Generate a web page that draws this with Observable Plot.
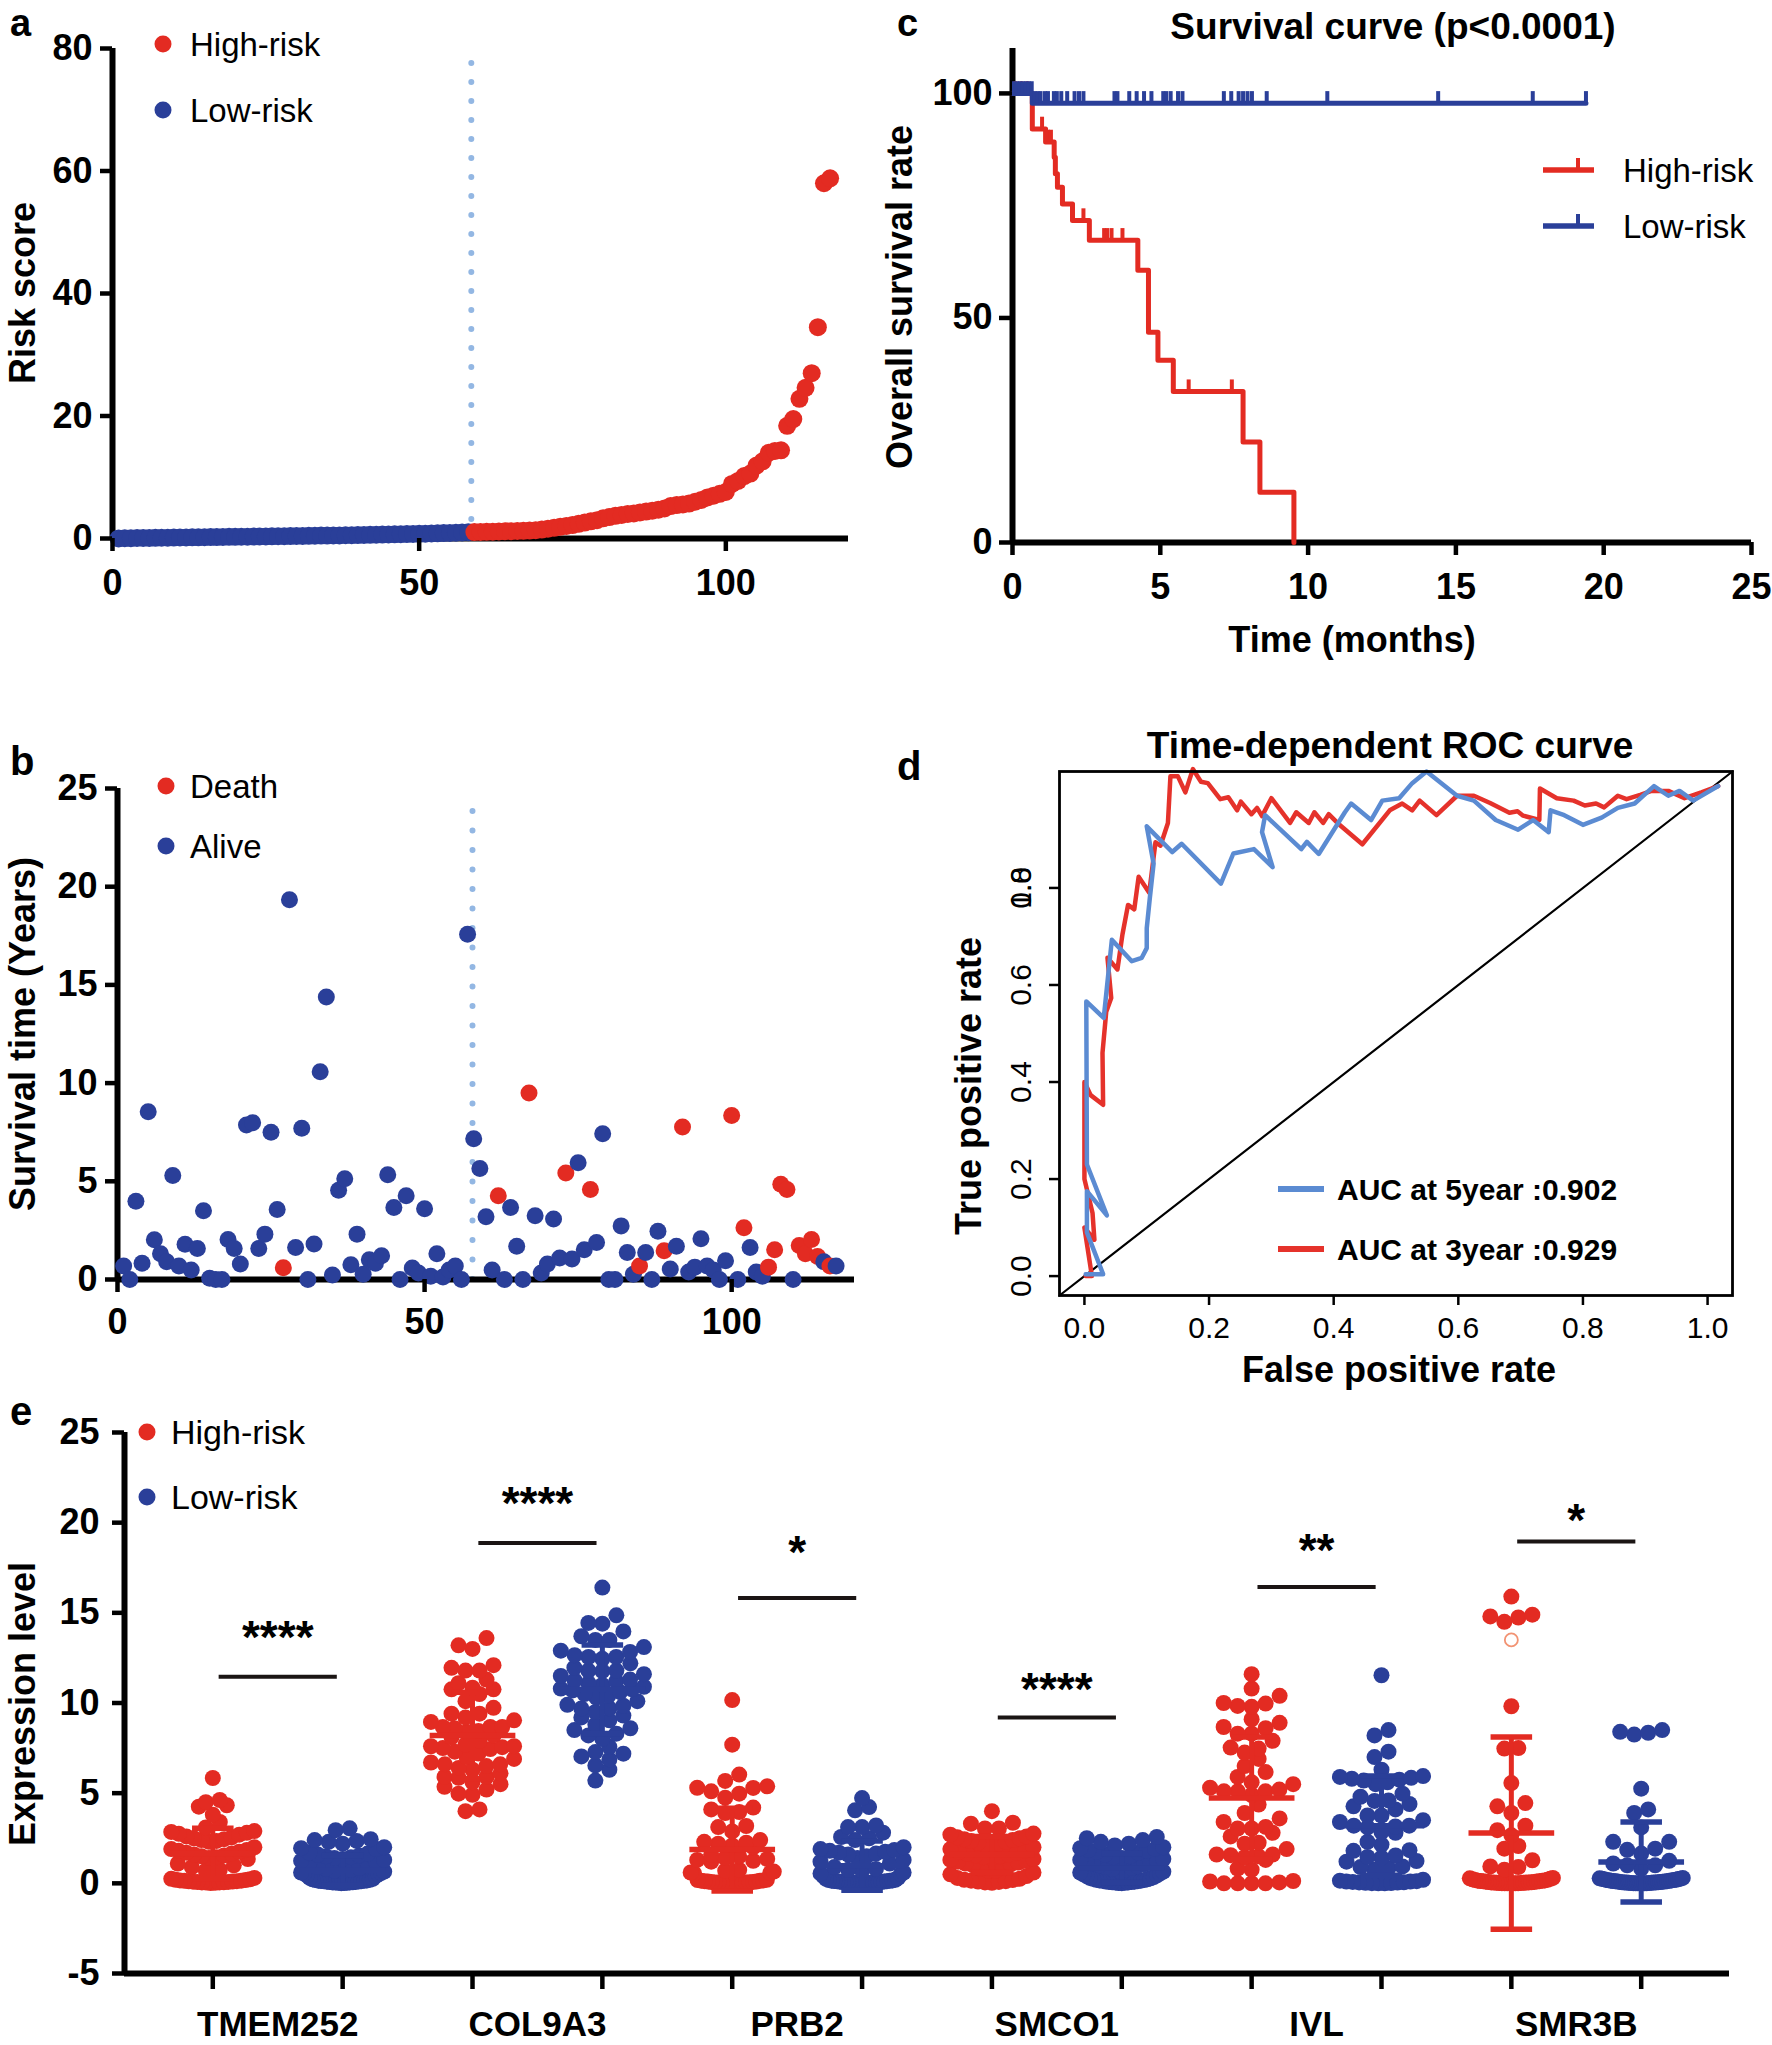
<!DOCTYPE html>
<html><head><meta charset="utf-8">
<script src="https://cdn.jsdelivr.net/npm/d3@7"></script>
<script src="https://cdn.jsdelivr.net/npm/@observablehq/plot@0.6"></script>
<style>
body{margin:0;background:#fff;}
#root{position:relative;width:1772px;height:2045px;overflow:hidden;background:#fff;}
</style></head><body><div id="root"></div>
<script>
// ---------------- DATA ----------------
// Panel a: risk score per patient (sorted)
const lowRiskScores = [0.02,0.04,0.06,0.08,0.09,0.10,0.12,0.13,0.14,0.15,
 0.17,0.18,0.19,0.20,0.22,0.23,0.24,0.25,0.27,0.28,
 0.29,0.30,0.32,0.33,0.34,0.35,0.37,0.38,0.40,0.41,
 0.42,0.44,0.45,0.47,0.48,0.50,0.51,0.53,0.55,0.56,
 0.58,0.60,0.62,0.64,0.66,0.68,0.70,0.72,0.74,0.77,
 0.79,0.82,0.85,0.88,0.91,0.95,0.98,1.02];
const highRiskScores = [1.05,1.08,1.10,1.12,1.15,1.17,1.20,1.23,1.26,1.30,
 1.35,1.45,1.60,1.75,1.90,2.05,2.20,2.40,2.60,2.80,
 3.00,3.30,3.50,3.70,3.85,4.00,4.10,4.25,4.40,4.55,
 4.70,4.90,5.30,5.45,5.55,5.70,6.00,6.30,6.70,7.00,
 7.30,7.60,8.90,9.40,10.2,10.6,11.9,12.6,14.0,14.3,
 14.4,18.4,19.5,22.8,24.6,27.0,34.5,58.0,58.8];
const riskCutoffA = 58.5;

// Panel b: survival time (years) per patient, death indices
const survTime = [0.69,0,3.98,0.83,8.54,2.02,1.31,0.9,5.3,0.69,
 1.8,0.48,1.58,3.5,0.06,0,0,2.04,1.58,0.79,
 7.87,7.98,1.58,2.31,7.5,3.56,0.6,19.33,1.63,7.7,
 0,1.81,10.58,14.38,0.23,4.54,5.13,0.75,2.31,0.27,
 1.0,0.83,1.21,5.33,3.67,0,4.27,0.58,0.33,3.6,
 0.17,1.31,0.13,0.48,0.69,0,17.58,7.17,5.65,3.19,
 0.48,4.27,0,3.67,1.69,0,9.5,3.25,0.33,0.79,
 3.08,1.1,5.42,1.04,5.94,1.52,4.58,1.88,7.42,0,
 0,2.73,1.38,0.27,0.69,1.38,0,2.46,1.46,0.54,
 1.69,7.77,0.38,0.63,2.08,0.69,0.48,0,0.96,8.35,
 0,2.63,1.63,0.38,0.17,0.63,1.52,4.85,4.58,0,
 1.73,1.31,2.04,1.17,0.9,0.69,0.69];
const deathIdx = [27,62,67,73,77,85,89,92,100,102,106,107,108,109,111,112,113,114,116];
const riskCutoffB = 57.8;

// Panel c: Kaplan-Meier steps [time (months), survival %]
const kmHigh = [[0,100],[0.67,92.1],[1.12,89.2],[1.41,85.8],[1.45,82.1],[1.52,79.1],[1.69,75.4],[2.03,71.7],[2.6,67.3],[4.24,60.6],[4.6,46.8],[4.92,40.6],[5.44,33.6],[7.8,22.4],[8.37,11.2],[9.52,0]];
const kmLow = [[0,100],[0.67,97.8],[19.4,97.8]];
const censorHigh = [[0.1,100],[0.3,100],[0.5,100],[1.0,92.1],[1.2,89.2],[1.3,89.2],[2.4,71.7],[3.1,67.3],[3.2,67.3],[3.35,67.3],[3.72,67.3],[5.96,33.6],[7.42,33.6]];
const censorLow = [[0.05,100],[0.15,100],[0.25,100],[0.35,100],[0.45,100],[0.55,100],[0.65,100],[0.75,97.8],[0.85,97.8],[0.95,97.8],[1.1,97.8],[1.2,97.8],[1.4,97.8],[1.5,97.8],[1.65,97.8],[1.85,97.8],[2.1,97.8],[2.25,97.8],[2.4,97.8],[3.45,97.8],[3.55,97.8],[3.95,97.8],[4.2,97.8],[4.45,97.8],[4.7,97.8],[5.1,97.8],[5.2,97.8],[5.35,97.8],[5.6,97.8],[5.75,97.8],[7.15,97.8],[7.4,97.8],[7.65,97.8],[7.8,97.8],[7.95,97.8],[8.1,97.8],[8.6,97.8],[10.65,97.8],[14.4,97.8],[17.6,97.8],[19.4,97.8]];

// Panel d: ROC curves [FPR, TPR]
const roc5y = [[0.002,0.004],[0.03,0.004],[0.004,0.09],[0.004,0.175],[0.036,0.125],[0.004,0.23],[0.003,0.566],[0.031,0.532],[0.036,0.594],[0.044,0.693],[0.076,0.649],[0.092,0.656],[0.1,0.676],[0.1,0.717],[0.105,0.78],[0.111,0.85],[0.1,0.927],[0.141,0.874],[0.156,0.891],[0.219,0.809],[0.239,0.871],[0.272,0.88],[0.302,0.843],[0.285,0.915],[0.29,0.95],[0.348,0.88],[0.357,0.895],[0.376,0.87],[0.418,0.956],[0.428,0.974],[0.46,0.94],[0.478,0.98],[0.505,0.985],[0.526,1.016],[0.549,1.04],[0.598,0.99],[0.625,0.98],[0.66,0.94],[0.696,0.92],[0.72,0.94],[0.745,0.915],[0.748,0.96],[0.77,0.95],[0.8,0.93],[0.83,0.945],[0.856,0.965],[0.883,0.974],[0.914,1.01],[0.937,0.99],[0.955,1.0],[0.977,0.98],[1.017,1.01]];
const roc3y = [[0.002,0],[0.012,0],[0.0,0.1],[0.016,0.075],[0.013,0.13],[0.0,0.2],[0.0,0.4],[0.01,0.373],[0.03,0.353],[0.029,0.46],[0.035,0.545],[0.043,0.573],[0.037,0.656],[0.053,0.632],[0.061,0.704],[0.07,0.765],[0.08,0.756],[0.087,0.823],[0.104,0.79],[0.114,0.894],[0.122,0.887],[0.134,0.934],[0.138,1.03],[0.15,1.03],[0.162,0.997],[0.174,1.045],[0.187,1.019],[0.198,1.016],[0.218,0.983],[0.231,0.987],[0.245,0.96],[0.251,0.978],[0.268,0.952],[0.277,0.965],[0.285,0.948],[0.30,0.985],[0.33,0.934],[0.34,0.956],[0.36,0.934],[0.369,0.956],[0.383,0.934],[0.392,0.952],[0.406,0.934],[0.446,0.89],[0.49,0.96],[0.51,0.974],[0.526,0.96],[0.538,0.98],[0.565,0.95],[0.598,0.99],[0.625,0.99],[0.651,0.975],[0.682,0.955],[0.695,0.958],[0.704,0.949],[0.73,0.94],[0.731,1.005],[0.758,0.985],[0.785,0.98],[0.803,0.97],[0.821,0.974],[0.834,0.966],[0.856,0.99],[0.87,0.983],[0.892,0.992],[0.91,1.0],[0.937,1.0],[0.963,0.985],[0.99,0.997],[1.017,1.01]];
const rocYTickPos = [0,0.2,0.4,0.6,0.8,0.8];
const rocYTickLabels = ["0.0","0.2","0.4","0.6","0.8","1.0"];
const rocXTicks = [0,0.2,0.4,0.6,0.8,1.0];
const rocLegend = ["AUC at 5year :0.902","AUC at 3year :0.929"];

// Panel e: expression levels
const genes = ["TMEM252","COL9A3","PRB2","SMCO1","IVL","SMR3B"];
const tmem252High = [5.84,4.62,4.5,4.33,4.25,3.81,3.4,3.1,2.9,2.85,2.8,2.75,2.7,2.6,2.55,2.5,2.45,2.4,2.35,2.3,2.0,1.9,1.85,1.8,1.75,1.7,1.65,1.6,1.55,1.5,1.45,1.4,1.35,1.1,1.0,0.9,0.75,0.7,0.3,0.25,0.22,0.2,0.18,0.16,0.15,0.14,0.12,0.11,0.1,0.09,0.08,0.07,0.06,0.05,0.05,0.04,0.03,0.02];
const tmem252Low = [3.05,2.95,2.45,2.4,2.35,2.3,2.2,2.0,1.95,1.9,1.7,1.65,1.6,1.55,1.5,1.45,1.4,1.35,1.3,1.25,1.2,1.15,1.1,0.9,0.85,0.8,0.75,0.7,0.68,0.65,0.6,0.58,0.55,0.5,0.45,0.4,0.3,0.25,0.22,0.2,0.18,0.16,0.15,0.14,0.13,0.12,0.11,0.1,0.09,0.08,0.07,0.06,0.05,0.05,0.04,0.03,0.03,0.02,0.01];
const col9a3High = [13.6,13.2,13.0,12.1,11.95,11.8,11.8,11.3,11.1,10.85,10.76,10.76,10.5,10.1,9.73,9.41,9.41,9.2,9.04,8.95,8.67,8.67,8.67,8.6,8.45,8.4,8.2,8.1,7.9,7.7,7.6,7.6,7.55,7.5,7.45,7.3,7.2,7.0,6.9,6.7,6.6,6.6,6.5,6.4,6.3,6.1,5.9,5.9,5.85,5.6,5.5,5.35,5.2,4.97,4.91,4.1,4.0];
const col9a3Low = [16.4,14.86,14.44,14.4,13.97,13.7,13.5,13.5,13.1,12.9,12.83,12.65,12.55,12.55,12.45,12.2,11.96,11.8,11.8,11.77,11.6,11.5,11.3,11.25,11.2,11.1,11.0,10.9,10.8,10.76,10.7,10.6,10.5,10.4,10.3,10.1,9.9,9.85,9.7,9.7,9.5,9.3,9.2,9.04,8.8,8.6,8.5,8.3,8.2,8.0,7.57,7.28,7.19,7.04,6.87,6.54,6.3,5.7];
const prb2High = [10.16,7.69,6.03,5.68,5.38,5.3,5.29,5.1,4.97,4.75,4.2,4.1,3.95,3.9,3.18,3.12,2.88,2.4,2.3,2.25,2.2,2.1,2.0,1.6,1.5,1.4,1.35,1.3,1.25,1.2,0.75,0.7,0.65,0.6,0.58,0.55,0.2,0.18,0.16,0.15,0.14,0.12,0.1,0.1,0.08,0.07,0.06,0.05,0.05,0.04,0.03,0.02,0.02,0.01,0.0,0.0,0.0];
const prb2Low = [4.73,4.23,4.05,3.21,3.12,3.12,2.81,2.57,2.5,2.4,2.0,1.9,1.85,1.8,1.75,1.7,1.65,1.6,1.5,1.4,1.3,1.2,1.1,0.9,0.8,0.75,0.7,0.6,0.55,0.5,0.4,0.3,0.25,0.2,0.18,0.16,0.15,0.14,0.13,0.12,0.11,0.1,0.09,0.08,0.07,0.06,0.06,0.05,0.05,0.04,0.04,0.03,0.03,0.02,0.02,0.01,0.01,0.0];
const smco1High = [4.0,3.36,3.31,3.04,3.04,2.76,2.7,2.6,2.55,2.5,2.45,2.4,2.35,2.3,2.25,2.2,2.15,2.1,2.0,1.9,1.8,1.75,1.7,1.65,1.6,1.55,1.5,1.45,1.4,1.35,1.3,1.25,1.2,1.15,1.1,1.05,1.0,0.9,0.8,0.7,0.7,0.6,0.5,0.4,0.3,0.25,0.2,0.18,0.15,0.12,0.1,0.08,0.05,0.03];
const smco1Low = [2.57,2.5,2.4,2.3,2.2,2.1,2.0,1.95,1.9,1.85,1.8,1.75,1.7,1.6,1.5,1.45,1.4,1.35,1.3,1.25,1.2,1.15,1.1,1.05,1.0,0.95,0.9,0.85,0.8,0.75,0.7,0.65,0.6,0.55,0.5,0.45,0.4,0.35,0.3,0.28,0.25,0.22,0.2,0.18,0.16,0.15,0.14,0.12,0.1,0.09,0.08,0.07,0.06,0.05,0.04,0.03,0.02,0.01];
const ivlHigh = [11.6,10.8,10.4,10.0,9.97,9.84,9.79,9.1,8.9,8.67,8.6,8.3,8.3,7.9,7.53,7.47,7.25,6.9,6.5,6.17,5.9,5.6,5.5,5.3,5.2,5.1,5.1,5.1,4.9,4.37,3.9,3.6,3.4,3.13,3.04,3.04,2.8,2.6,2.25,2.2,1.9,1.6,1.6,1.56,1.5,1.45,1.3,0.82,0.76,0.13,0.1,0.05,0.0,0.0,0.0,0.0];
const ivlLow = [11.54,8.5,8.2,7.3,7.0,6.3,5.95,5.9,5.85,5.8,5.75,5.7,5.6,5.5,4.97,4.8,4.6,4.57,4.4,4.27,4.1,3.76,3.76,3.5,3.4,3.2,3.2,3.15,3.1,2.84,2.8,2.3,2.15,1.84,1.8,1.55,1.46,1.43,1.24,1.2,0.94,0.9,0.85,0.76,0.2,0.15,0.12,0.1,0.1,0.08,0.06,0.05,0.04,0.03,0.02,0.01,0.0,0.0];
const smr3bHigh = [15.9,14.9,14.8,14.74,14.5,9.82,7.5,7.47,5.56,4.45,4.27,3.9,3.2,2.95,2.66,2.07,1.92,1.28,0.94,0.9,0.76,0.3,0.28,0.25,0.22,0.2,0.18,0.16,0.15,0.14,0.13,0.12,0.11,0.1,0.09,0.08,0.07,0.06,0.05,0.05,0.04,0.04,0.03,0.03,0.02,0.02,0.01,0.01,0,0,0,0,0];
const smr3bHighHollow = [13.5];
const smr3bLow = [8.5,8.4,8.35,8.25,5.25,4.1,3.9,3.1,2.3,2.3,1.92,1.86,1.65,1.25,1.1,1.0,1.0,0.82,0.3,0.28,0.26,0.25,0.24,0.22,0.2,0.19,0.18,0.17,0.16,0.15,0.14,0.13,0.12,0.11,0.1,0.1,0.09,0.08,0.07,0.06,0.06,0.05,0.05,0.04,0.04,0.03,0.03,0.02,0.02,0.01,0.01,0.0,0.0,0.0,0.0,0.0];
// mean and SD per column (High, Low for each gene)
const exprMeans = [1.65,0.72,8.2,10.76,1.87,0.98,1.6,0.85,4.73,3.2,2.79,1.18];
const exprSDs = [1.4,0.83,2.4,2.45,2.3,1.37,1.0,0.8,3.39,2.75,5.33,2.22];
const sigBarY = [11.46,18.87,15.82,9.2,16.43,18.95];
const sigStarY = [14.1,21.5,18.8,11.2,18.9,20.6];
const sigLabels = ["****","****","*","****","**","*"];

// ---------------- STYLE ----------------
const RED = "#e32b22", BLUE = "#2a3f99", ROC_BLUE = "#5b8bd2", ROC_RED = "#e5322b", CUT = "#93b7e3";
const FONT = "'Liberation Sans', Arial, Helvetica, sans-serif";
const style = {fontFamily: FONT, color: "#000", background: "transparent", overflow: "visible"};
const AXW = 6, TKW = 4.5;
const root = document.getElementById("root");
function place(node, left, top) {
  node.style.position = "absolute"; node.style.left = left + "px"; node.style.top = top + "px";
  root.appendChild(node);
}
const groupColor = {domain: ["High-risk","Low-risk"], range: [RED, BLUE]};
const plain = d => String(d);

// ---------------- PANEL A ----------------
const riskData = [
  ...lowRiskScores.map((s,i) => ({idx: i+1, score: s, group: "Low-risk"})),
  ...highRiskScores.map((s,i) => ({idx: lowRiskScores.length + i + 1, score: s, group: "High-risk"}))
];
const plotA = Plot.plot({
  width: 880, height: 620, marginLeft: 112, marginRight: 32, marginTop: 48, marginBottom: 82,
  x: {domain: [0,120]}, y: {domain: [0,80]}, color: groupColor, style,
  marks: [
    Plot.ruleX([riskCutoffA], {y1: 0, y2: 78.5, stroke: CUT, strokeWidth: 6, strokeDasharray: "0 19", strokeLinecap: "round"}),
    Plot.ruleY([0], {stroke: "#000", strokeWidth: AXW}),
    Plot.ruleX([0], {stroke: "#000", strokeWidth: AXW}),
    Plot.dot(riskData, {x: "idx", y: "score", fill: "group", r: 9}),
    Plot.axisX({ticks: [0,50,100], tickFormat: plain, tickSize: 13, tickPadding: 18, strokeWidth: TKW, fontSize: 36, fontWeight: "bold", label: null}),
    Plot.axisY({ticks: [0,20,40,60,80], tickFormat: plain, tickSize: 12, tickPadding: 8, strokeWidth: TKW, fontSize: 36, fontWeight: "bold", label: null})
  ]
});
place(plotA, 0, 0);

// ---------------- PANEL B ----------------
const survData = survTime.map((t,i) => ({idx: i+1, t, status: deathIdx.includes(i+1) ? "Death" : "Alive"}));
const plotB = Plot.plot({
  width: 880, height: 640, marginLeft: 117, marginRight: 26, marginTop: 48, marginBottom: 101,
  x: {domain: [0,120]}, y: {domain: [0,25]},
  color: {domain: ["Death","Alive"], range: [RED, BLUE]}, style,
  marks: [
    Plot.ruleX([riskCutoffB], {y1: 0, y2: 24.7, stroke: CUT, strokeWidth: 6, strokeDasharray: "0 19.5", strokeLinecap: "round"}),
    Plot.ruleY([0], {stroke: "#000", strokeWidth: AXW}),
    Plot.ruleX([0], {stroke: "#000", strokeWidth: AXW}),
    Plot.dot(survData, {x: "idx", y: "t", fill: "status", r: 8.5}),
    Plot.axisX({ticks: [0,50,100], tickFormat: plain, tickSize: 13, tickPadding: 16, strokeWidth: TKW, fontSize: 36, fontWeight: "bold", label: null}),
    Plot.axisY({ticks: [0,5,10,15,20,25], tickFormat: plain, tickSize: 12, tickPadding: 8, strokeWidth: TKW, fontSize: 36, fontWeight: "bold", label: null})
  ]
});
place(plotB, 0, 740);

// ---------------- PANEL C ----------------
const censorH = censorHigh.map(([t,s]) => ({t, s}));
const censorL = censorLow.map(([t,s]) => ({t, s}));
const plotC = Plot.plot({
  width: 892, height: 680, marginLeft: 132, marginRight: 21, marginTop: 48, marginBottom: 138,
  x: {domain: [0,25]}, y: {domain: [0,110]}, style,
  marks: [
    Plot.ruleY([0], {stroke: "#000", strokeWidth: AXW}),
    Plot.ruleX([0], {stroke: "#000", strokeWidth: AXW}),
    Plot.line(kmHigh, {x: d => d[0], y: d => d[1], curve: "step-after", stroke: RED, strokeWidth: 5}),
    Plot.ruleX(censorH, {x: "t", y1: "s", y2: d => d.s + 2.6, stroke: RED, strokeWidth: 4}),
    Plot.line(kmLow, {x: d => d[0], y: d => d[1], curve: "step-after", stroke: BLUE, strokeWidth: 5}),
    Plot.ruleX(censorL, {x: "t", y1: "s", y2: d => d.s + 2.6, stroke: BLUE, strokeWidth: 4}),
    Plot.axisX({ticks: [0,5,10,15,20,25], tickFormat: plain, tickSize: 13, tickPadding: 18, strokeWidth: TKW, fontSize: 36, fontWeight: "bold", label: null}),
    Plot.axisY({ticks: [0,50,100], tickFormat: plain, tickSize: 13, tickPadding: 7, strokeWidth: TKW, fontSize: 36, fontWeight: "bold", label: null})
  ]
});
place(plotC, 880, 0);

// ---------------- PANEL D ----------------
const rocDomain = [-0.04, 1.04];
const rocYTicks = rocYTickLabels.map((l,i) => ({pos: rocYTickPos[i], label: l}));
const plotD = Plot.plot({
  width: 872, height: 700, marginLeft: 159, marginRight: 40, marginTop: 71, marginBottom: 105,
  x: {domain: rocDomain}, y: {domain: rocDomain}, style,
  marks: [
    Plot.line(rocDomain.map(v => [v, v]), {stroke: "#000", strokeWidth: 2.2}),
    Plot.line(roc3y, {x: d => d[0], y: d => d[1], stroke: ROC_RED, strokeWidth: 4.5, strokeLinejoin: "round"}),
    Plot.line(roc5y, {x: d => d[0], y: d => d[1], stroke: ROC_BLUE, strokeWidth: 4.5, strokeLinejoin: "round"}),
    Plot.frame({stroke: "#000", strokeWidth: 2.8}),
    Plot.axisX({ticks: rocXTicks, tickFormat: d3.format(".1f"), tickSize: 10, tickPadding: 11, strokeWidth: 2.5, fontSize: 30, label: null}),
    Plot.axisY({ticks: [0,0.2,0.4,0.6,0.8], tickFormat: () => "", tickSize: 10, strokeWidth: 2.5, label: null}),
    Plot.text(rocYTicks, {x: rocDomain[0], y: "pos", text: "label", rotate: -90, dx: -38, fontSize: 30})
  ]
});
place(plotD, 900, 700);

// ---------------- PANEL E ----------------
const xDomainE = [0.32, 12.68];
const pxPerSlot = (1772 - 124 - 43) / (xDomainE[1] - xDomainE[0]);
const pxPerUnit = (655 - 42 - 72) / 30;
const DOT_STEP = 14 / pxPerSlot, HALF = 0.32, BIN = 12 / pxPerUnit;
function swarm(values, slot) {
  const sorted = values.slice().sort((a,b) => a - b);
  const out = [];
  let i = 0;
  while (i < sorted.length) {
    let j = i;
    while (j < sorted.length && sorted[j] - sorted[i] < BIN) j++;
    const bin = sorted.slice(i, j), n = bin.length;
    const step = n > 1 ? Math.min(DOT_STEP, 2 * HALF / (n - 1)) : 0;
    const offs = d3.range(n).map(k => (k - (n - 1) / 2) * step).sort((a,b) => Math.abs(a) - Math.abs(b));
    bin.forEach((v,k) => out.push({x: slot + offs[k], y: v}));
    i = j;
  }
  return out;
}
const highArrays = [tmem252High, col9a3High, prb2High, smco1High, ivlHigh, smr3bHigh];
const lowArrays = [tmem252Low, col9a3Low, prb2Low, smco1Low, ivlLow, smr3bLow];
const columns = [];
genes.forEach((g,i) => {
  columns.push({gene: g, group: "High-risk", slot: 2*i+1, values: highArrays[i]});
  columns.push({gene: g, group: "Low-risk", slot: 2*i+2, values: lowArrays[i]});
});
const exprPoints = columns.flatMap(c => swarm(c.values, c.slot).map(p => ({...p, group: c.group})));
const errBars = columns.map((c,k) => ({slot: c.slot, group: c.group, mean: exprMeans[k], sd: exprSDs[k]}));
const sigData = genes.map((g,i) => ({c: 2*i+1.5, y: sigBarY[i], starY: sigStarY[i], label: sigLabels[i]}));
const hollow = smr3bHighHollow.map(v => ({slot: 11, v}));
const plotE = Plot.plot({
  width: 1772, height: 655, marginLeft: 124, marginRight: 43, marginTop: 42, marginBottom: 72,
  x: {domain: xDomainE}, y: {domain: [-5,25]}, color: groupColor, style,
  marks: [
    Plot.ruleY([-5], {stroke: "#000", strokeWidth: AXW}),
    Plot.ruleX([xDomainE[0]], {stroke: "#000", strokeWidth: AXW}),
    Plot.dot(exprPoints, {x: "x", y: "y", fill: "group", r: 8}),
    Plot.dot(hollow, {x: "slot", y: "v", fill: "#fff", stroke: "#f29373", strokeWidth: 1.8, r: 6.5}),
    Plot.ruleX(errBars, {x: "slot", y1: d => d.mean - d.sd, y2: d => d.mean + d.sd, stroke: "group", strokeWidth: 5}),
    Plot.link(errBars, {x1: d => d.slot - 0.16, x2: d => d.slot + 0.16, y1: d => d.mean + d.sd, y2: d => d.mean + d.sd, stroke: "group", strokeWidth: 5.5}),
    Plot.link(errBars, {x1: d => d.slot - 0.16, x2: d => d.slot + 0.16, y1: d => d.mean - d.sd, y2: d => d.mean - d.sd, stroke: "group", strokeWidth: 5.5}),
    Plot.link(errBars, {x1: d => d.slot - 0.33, x2: d => d.slot + 0.33, y1: "mean", y2: "mean", stroke: "group", strokeWidth: 5.5}),
    Plot.link(sigData, {x1: d => d.c - 0.455, x2: d => d.c + 0.455, y1: "y", y2: "y", stroke: "#1b1514", strokeWidth: 4}),
    Plot.text(sigData, {x: "c", y: "starY", text: "label", fontSize: 46, fontWeight: "bold", dy: 9}),
    Plot.text(genes, {x: (d,i) => 2*i + 1.5, y: -5, text: d => d, dy: 51, fontSize: 35, fontWeight: "bold"}),
    Plot.axisX({ticks: d3.range(1, 13), tickFormat: () => "", tickSize: 16, strokeWidth: TKW, label: null}),
    Plot.axisY({ticks: [-5,0,5,10,15,20,25], tickFormat: plain, tickSize: 12, tickPadding: 13, strokeWidth: TKW, fontSize: 36, fontWeight: "bold", label: null})
  ]
});
place(plotE, 0, 1390);

// ---------------- TEXT / LEGEND OVERLAY ----------------
const NS = "http://www.w3.org/2000/svg";
const ov = document.createElementNS(NS, "svg");
ov.setAttribute("width", 1772); ov.setAttribute("height", 2045);
ov.style.position = "absolute"; ov.style.left = "0px"; ov.style.top = "0px"; ov.style.pointerEvents = "none";
root.appendChild(ov);
function txt(str, x, y, {size = 36, weight = "bold", anchor = "middle", rotate = 0, center = true} = {}) {
  const t = document.createElementNS(NS, "text");
  t.textContent = str;
  t.setAttribute("transform", `translate(${x},${y}) rotate(${rotate})`);
  t.setAttribute("text-anchor", anchor);
  if (center) t.setAttribute("dy", "0.355em");
  t.setAttribute("font-size", size); t.setAttribute("font-weight", weight);
  t.setAttribute("font-family", FONT); t.setAttribute("fill", "#000");
  ov.appendChild(t);
}
function circ(x, y, r, fill) {
  const c = document.createElementNS(NS, "circle");
  c.setAttribute("cx", x); c.setAttribute("cy", y); c.setAttribute("r", r); c.setAttribute("fill", fill);
  ov.appendChild(c);
}
function seg(x1, y1, x2, y2, stroke, w) {
  const l = document.createElementNS(NS, "line");
  l.setAttribute("x1", x1); l.setAttribute("y1", y1); l.setAttribute("x2", x2); l.setAttribute("y2", y2);
  l.setAttribute("stroke", stroke); l.setAttribute("stroke-width", w);
  ov.appendChild(l);
}
// panel letters
txt("a", 10, 36, {size: 38, anchor: "start", center: false});
txt("b", 10, 775, {size: 40, anchor: "start", center: false});
txt("c", 897, 36, {size: 38, anchor: "start", center: false});
txt("d", 897, 780, {size: 40, anchor: "start", center: false});
txt("e", 10, 1425, {size: 40, anchor: "start", center: false});
// axis titles and titles
txt("Risk score", 22, 293, {rotate: -90});
txt("Survival time (Years)", 22, 1034, {rotate: -90});
txt("Overall survival rate", 899, 297, {rotate: -90});
txt("Time (months)", 1352, 639);
txt("Survival curve (p<0.0001)", 1393, 26, {size: 37});
txt("Time-dependent ROC curve", 1390, 745, {size: 37});
txt("True positive rate", 968, 1086, {rotate: -90});
txt("False positive rate", 1399, 1369);
txt("Expression level", 22, 1704, {rotate: -90});
// legends
circ(163, 44, 8.5, RED); txt("High-risk", 190, 44, {size: 33, weight: "normal", anchor: "start"});
circ(163, 110, 8.5, BLUE); txt("Low-risk", 190, 110, {size: 33, weight: "normal", anchor: "start"});
circ(166, 786, 8.5, RED); txt("Death", 190, 786, {size: 33, weight: "normal", anchor: "start"});
circ(166, 846, 8.5, BLUE); txt("Alive", 190, 846, {size: 33, weight: "normal", anchor: "start"});
seg(1543, 170, 1594, 170, RED, 5.5); seg(1578, 170, 1578, 158, RED, 4);
txt("High-risk", 1623, 170, {size: 33, weight: "normal", anchor: "start"});
seg(1543, 226, 1594, 226, BLUE, 5.5); seg(1578, 226, 1578, 214, BLUE, 4);
txt("Low-risk", 1623, 226, {size: 33, weight: "normal", anchor: "start"});
seg(1278, 1189, 1324, 1189, ROC_BLUE, 6);
txt(rocLegend[0], 1337, 1189, {size: 30, anchor: "start"});
seg(1278, 1249, 1324, 1249, ROC_RED, 6);
txt(rocLegend[1], 1337, 1249, {size: 30, anchor: "start"});
circ(147, 1432, 8.5, RED); txt("High-risk", 171, 1432, {size: 34, weight: "normal", anchor: "start"});
circ(147, 1497, 8.5, BLUE); txt("Low-risk", 171, 1497, {size: 34, weight: "normal", anchor: "start"});
</script></body></html>
